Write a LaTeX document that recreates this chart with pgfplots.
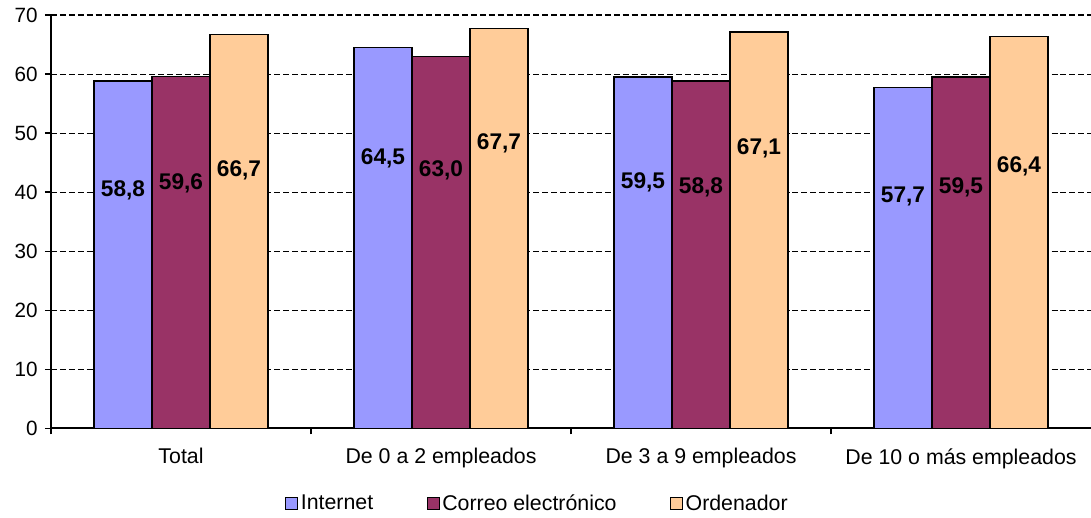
\documentclass[border=0pt]{standalone}
\usepackage{pgfplots}
\pgfplotsset{compat=1.18}
\usepackage{fontspec}
\setmainfont{Liberation Sans}
\definecolor{cint}{HTML}{9999FF}
\definecolor{ccor}{HTML}{993366}
\definecolor{cord}{HTML}{FFCC99}
\pgfplotsset{
  sqlegend/.style={legend image code/.code={\draw[##1,line width=0.8pt] (0pt,-4.5pt) rectangle (9pt,4.5pt);}},
  barlab/.style={draw=none, mark=none, forget plot, nodes near coords, point meta=explicit symbolic,
    every node near coord/.append style={anchor=center, font=\fontsize{17}{20}\selectfont\bfseries, black}},
}
\begin{document}
\begin{tikzpicture}[font=\fontsize{16}{19}\selectfont]
\begin{axis}[
  scale only axis, width=780pt, height=310pt,
  xmin=-0.5, xmax=3.5, ymin=0, ymax=70,
  ytick={0,10,...,70},
  xtick={0,1,2,3},
  xticklabels={Total, De 0 a 2 empleados, De 3 a 9 empleados, De 10 o más empleados},
  minor xtick={-0.5,0.5,1.5,2.5},
  major x tick style={draw=none},
  axis x line*=bottom, axis y line*=left,
  axis line style={black, line width=1.3pt, -},
  tick style={black, line width=1pt},
  tick align=outside, major tick length=4.5pt, minor tick length=4.5pt,
  ymajorgrids, major grid style={black, line width=0.8pt, dash pattern=on 4.5pt off 2.2pt},
  /pgf/number format/assume math mode=true,
  yticklabel style={xshift=-2pt, font=\fontsize{15.5}{18}\selectfont},
  xticklabel style={yshift=-7pt},
  legend columns=3,
  legend style={at={(0.468,-0.182)}, anchor=center, draw=none, fill=none,
    /tikz/every even column/.append style={column sep=38pt}},
]
\addplot[ybar, bar width=0.223, bar shift=-0.223, fill=cint, draw=black, line width=1pt, sqlegend]
  coordinates {(0,58.8) (1,64.5) (2,59.5) (3,57.7)};
\addlegendentry{Internet}
\addplot[ybar, bar width=0.223, bar shift=0, fill=ccor, draw=black, line width=1pt, sqlegend]
  coordinates {(0,59.6) (1,63.0) (2,58.8) (3,59.5)};
\addlegendentry{Correo electrónico}
\addplot[ybar, bar width=0.223, bar shift=0.223, fill=cord, draw=black, line width=1pt, sqlegend]
  coordinates {(0,66.7) (1,67.7) (2,67.1) (3,66.4)};
\addlegendentry{Ordenador}
\addplot[barlab] table[meta=lab] {
x y lab
-0.223 40.3 58,8
0.777 45.8 64,5
1.777 41.7 59,5
2.777 39.3 57,7
};
\addplot[barlab] table[meta=lab] {
x y lab
0 41.5 59,6
1 43.7 63,0
2 40.8 58,8
3 40.8 59,5
};
\addplot[barlab] table[meta=lab] {
x y lab
0.223 43.7 66,7
1.223 48.3 67,7
2.223 47.5 67,1
3.223 44.4 66,4
};
\end{axis}
\pgfresetboundingbox
\path[use as bounding box] ([xshift=-38.25pt,yshift=-66.75pt]current axis.south west) rectangle ([yshift=11.25pt]current axis.north east);
\end{tikzpicture}
\end{document}
